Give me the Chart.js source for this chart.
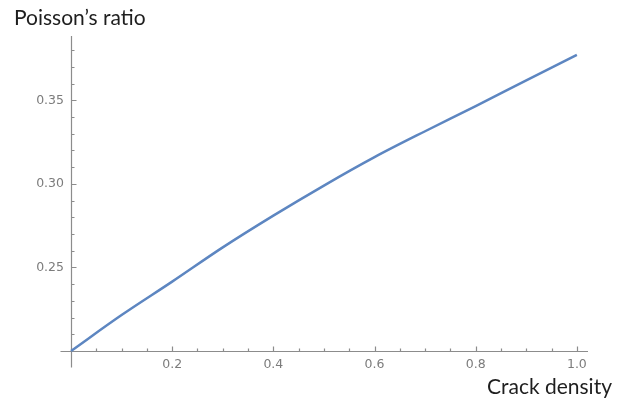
<!DOCTYPE html>
<html>
<head>
<meta charset="utf-8">
<script src="https://cdn.jsdelivr.net/npm/chart.js@4.4.1/dist/chart.umd.min.js"></script>
<style>
  html, body { margin: 0; padding: 0; background: #ffffff; }
  #wrap { position: relative; width: 620px; height: 403px; }
</style>
</head>
<body>
<div id="wrap"><canvas id="chart" width="620" height="403"></canvas></div>
<script>
// Poisson's ratio as a function of crack density
const crackDensity = [0, 0.1, 0.2, 0.3, 0.4, 0.5, 0.6, 0.7, 0.8, 0.9, 1.0];
const poissonRatio = [0.200, 0.2215, 0.2415, 0.2620, 0.2810, 0.2990, 0.3160, 0.3315, 0.3465, 0.3620, 0.3772];

// labelled tick positions
const xTickValues = [0.2, 0.4, 0.6, 0.8, 1.0];
const xTickLabels = ['0.2', '0.4', '0.6', '0.8', '1.0'];
const yTickValues = [0.25, 0.30, 0.35];
const yTickLabels = ['0.25', '0.30', '0.35'];

const axisColor = '#8c8c8c';
const labelColor = '#7c7c7c';
const curveColor = '#5d86c1';

// Frame-style axes: lines through the origin with inward ticks and small overhangs
const frameAxes = {
  id: 'frameAxes',
  beforeDatasetsDraw(chart) {
    const { ctx, scales: { x, y } } = chart;
    const x0 = Math.round(x.getPixelForValue(0)) + 0.5;
    const y0 = Math.round(y.getPixelForValue(0.2)) + 0.5;
    ctx.save();
    ctx.strokeStyle = axisColor;
    ctx.lineWidth = 1.2;
    ctx.beginPath();
    // horizontal axis, extending slightly left of the origin
    ctx.moveTo(x0 - 11, y0);
    ctx.lineTo(x.getPixelForValue(x.max), y0);
    // vertical axis, extending slightly below the origin
    ctx.moveTo(x0, y0 + 16);
    ctx.lineTo(x0, y.getPixelForValue(y.max));
    ctx.stroke();

    // x ticks: every 0.05, major every 0.2
    ctx.beginPath();
    for (let i = 1; i <= 20; i++) {
      const v = i * 0.05;
      const px = Math.round(x.getPixelForValue(v)) + 0.5;
      const len = (i % 4 === 0) ? 5 : 3;
      ctx.moveTo(px, y0);
      ctx.lineTo(px, y0 - len);
    }
    // y ticks: every 0.01, major every 0.05
    for (let i = 1; i <= 18; i++) {
      const v = 0.2 + i * 0.01;
      const py = Math.round(y.getPixelForValue(v)) + 0.5;
      const len = (i % 5 === 0) ? 5 : 3;
      ctx.moveTo(x0, py);
      ctx.lineTo(x0 + len, py);
    }
    ctx.stroke();
    ctx.restore();
  },
  afterDraw(chart) {
    const { ctx } = chart;
    ctx.save();
    ctx.fillStyle = '#1e1e1e';
    ctx.font = '21px Lato, "Liberation Sans", sans-serif';
    ctx.textBaseline = 'alphabetic';
    ctx.textAlign = 'left';
    ctx.fillText('Poisson\u2019s ratio', 14, 25);
    ctx.textAlign = 'right';
    ctx.fillText('Crack density', 612, 394);
    ctx.restore();
  }
};

const points = crackDensity.map((d, i) => ({ x: d, y: poissonRatio[i] }));

new Chart(document.getElementById('chart'), {
  type: 'line',
  data: {
    datasets: [{
      data: points,
      borderColor: curveColor,
      borderWidth: 2.5,
      pointRadius: 0,
      fill: false,
      cubicInterpolationMode: 'monotone',
      clip: false
    }]
  },
  options: {
    responsive: false,
    animation: false,
    events: [],
    layout: { padding: { left: 0, right: 32, top: 36, bottom: 32 } },
    plugins: { legend: { display: false }, tooltip: { enabled: false } },
    scales: {
      x: {
        type: 'linear',
        min: 0,
        max: 1.022,
        grid: { display: false, drawTicks: false },
        border: { display: false },
        afterBuildTicks(scale) { scale.ticks = xTickValues.map(v => ({ value: v })); },
        afterFit(scale) { scale.height = 20; },
        ticks: {
          padding: 6,
          color: labelColor,
          font: { family: '"DejaVu Sans", sans-serif', size: 12.5 },
          maxRotation: 0,
          callback: (v) => { const i = xTickValues.findIndex(t => Math.abs(t - v) < 1e-9); return i >= 0 ? xTickLabels[i] : ''; }
        }
      },
      y: {
        type: 'linear',
        min: 0.2,
        max: 0.3885,
        grid: { display: false, drawTicks: false },
        border: { display: false },
        afterBuildTicks(scale) { scale.ticks = yTickValues.map(v => ({ value: v })); },
        afterFit(scale) { scale.width = 71; },
        ticks: {
          padding: 7,
          color: labelColor,
          font: { family: '"DejaVu Sans", sans-serif', size: 12.5 },
          callback: (v) => { const i = yTickValues.findIndex(t => Math.abs(t - v) < 1e-9); return i >= 0 ? yTickLabels[i] : ''; }
        }
      }
    }
  },
  plugins: [frameAxes]
});
</script>
</body>
</html>
